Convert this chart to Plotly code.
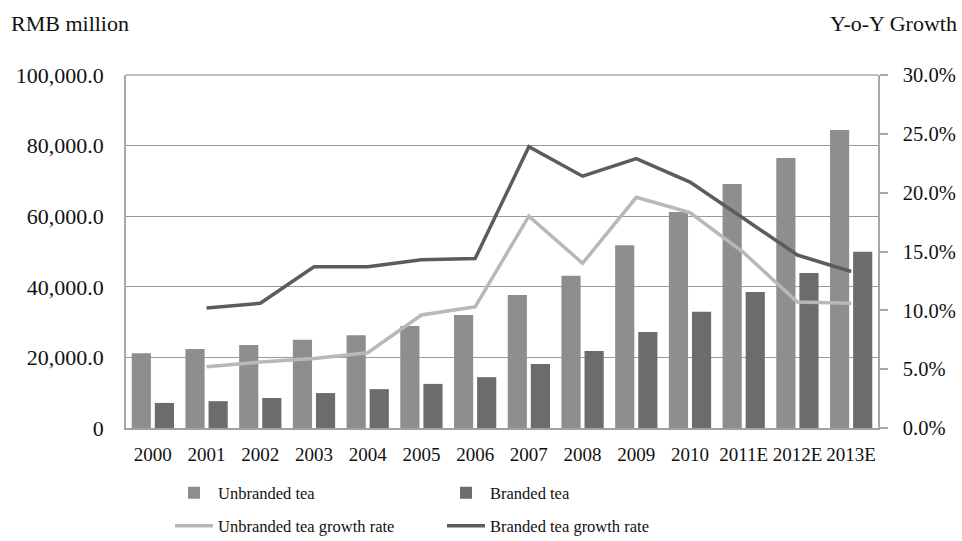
import plotly.graph_objects as go

# Tea market size (RMB million) and year-on-year growth
years = ["2000", "2001", "2002", "2003", "2004", "2005", "2006",
         "2007", "2008", "2009", "2010", "2011E", "2012E", "2013E"]
unbranded = [21200, 22400, 23500, 25000, 26300, 28900, 32000,
             37700, 43100, 51800, 61200, 69100, 76500, 84400]
branded = [7100, 7600, 8500, 9900, 11000, 12500, 14400,
           18100, 21800, 27200, 32900, 38500, 43900, 49900]
# growth rates in percent; no figure for the first year
unbranded_growth = [None, 5.2, 5.6, 5.9, 6.4, 9.6, 10.3,
                    18.0, 14.0, 19.6, 18.3, 14.9, 10.7, 10.6]
branded_growth = [None, 10.2, 10.6, 13.7, 13.7, 14.3, 14.4,
                  23.9, 21.4, 22.9, 20.9, 17.8, 14.7, 13.3]

left_ticks = [0, 20000, 40000, 60000, 80000, 100000]
left_labels = ["0", "20,000.0", "40,000.0", "60,000.0", "80,000.0", "100,000.0"]
right_ticks = [0, 5, 10, 15, 20, 25, 30]
right_labels = ["0.0%", "5.0%", "10.0%", "15.0%", "20.0%", "25.0%", "30.0%"]

FONT = "Liberation Serif"
TXT = "#111111"

fig = go.Figure()
fig.add_trace(go.Bar(x=years, y=unbranded, name="Unbranded tea",
                     marker=dict(color="#8e8e8e", line=dict(width=0)),
                     legend="legend"))
fig.add_trace(go.Bar(x=years, y=branded, name="Branded tea",
                     marker=dict(color="#6c6c6c", line=dict(width=0)),
                     legend="legend"))
fig.add_trace(go.Scatter(x=years, y=unbranded_growth, name="Unbranded tea growth rate",
                         mode="lines", line=dict(color="#b8b8b8", width=3.5),
                         yaxis="y2", legend="legend2"))
fig.add_trace(go.Scatter(x=years, y=branded_growth, name="Branded tea growth rate",
                         mode="lines", line=dict(color="#5c5c5c", width=3.5),
                         yaxis="y2", legend="legend2"))

legend_common = dict(orientation="h", xref="container", yref="container",
                     xanchor="left", yanchor="middle",
                     entrywidth=219, entrywidthmode="pixels",
                     font=dict(family=FONT, size=16.5, color=TXT),
                     bgcolor="rgba(0,0,0,0)", itemwidth=38, tracegroupgap=0)

fig.update_layout(
    width=962, height=541,
    margin=dict(l=126, r=84, t=75, b=113, autoexpand=False),
    paper_bgcolor="white", plot_bgcolor="white",
    font=dict(family=FONT, color=TXT),
    barmode="group", bargap=0.14, bargroupgap=0.17,
    xaxis=dict(
        type="category", showgrid=False, ticks="", automargin=False,
        showline=True, linecolor="#a0a0a0", linewidth=1.5,
        tickfont=dict(family=FONT, size=19, color=TXT),
        ticklabelstandoff=8,
    ),
    yaxis=dict(
        range=[0, 100000], tickvals=left_ticks, ticktext=left_labels,
        showgrid=True, gridcolor="#9a9a9a", gridwidth=1, automargin=False,
        showline=True, linecolor="#a8a8a8", linewidth=1.5, mirror=False,
        ticks="", zeroline=False,
        tickfont=dict(family=FONT, size=22, color=TXT),
        ticklabelstandoff=16,
    ),
    yaxis2=dict(
        range=[0, 30], tickvals=right_ticks, ticktext=right_labels,
        overlaying="y", side="right", showgrid=False, zeroline=False,
        automargin=False,
        showline=True, linecolor="#a8a8a8", linewidth=1.5,
        ticks="outside", ticklen=8, tickcolor="#a8a8a8", tickwidth=1.5,
        tickfont=dict(family=FONT, size=20.5, color=TXT),
        ticklabelstandoff=11,
    ),
    legend=dict(x=170 / 962, y=1 - 493 / 541, **legend_common),
    legend2=dict(x=170 / 962, y=1 - 526 / 541, **legend_common),
    annotations=[
        dict(text="RMB million", xref="paper", yref="paper",
             x=-117 / 752, y=1 + (75 - 23) / 353, xanchor="left", yanchor="middle",
             showarrow=False, font=dict(family=FONT, size=22, color=TXT)),
        dict(text="Y-o-Y Growth", xref="paper", yref="paper",
             x=1 + 81 / 752, y=1 + (75 - 23) / 353, xanchor="right", yanchor="middle",
             showarrow=False, font=dict(family=FONT, size=22, color=TXT)),
    ],
)

# top border of the plotting area
fig.add_shape(type="line", xref="paper", yref="paper", x0=0, x1=1, y0=1, y1=1,
              line=dict(color="#a8a8a8", width=1.5), layer="below")

fig.write_html("out.html")
